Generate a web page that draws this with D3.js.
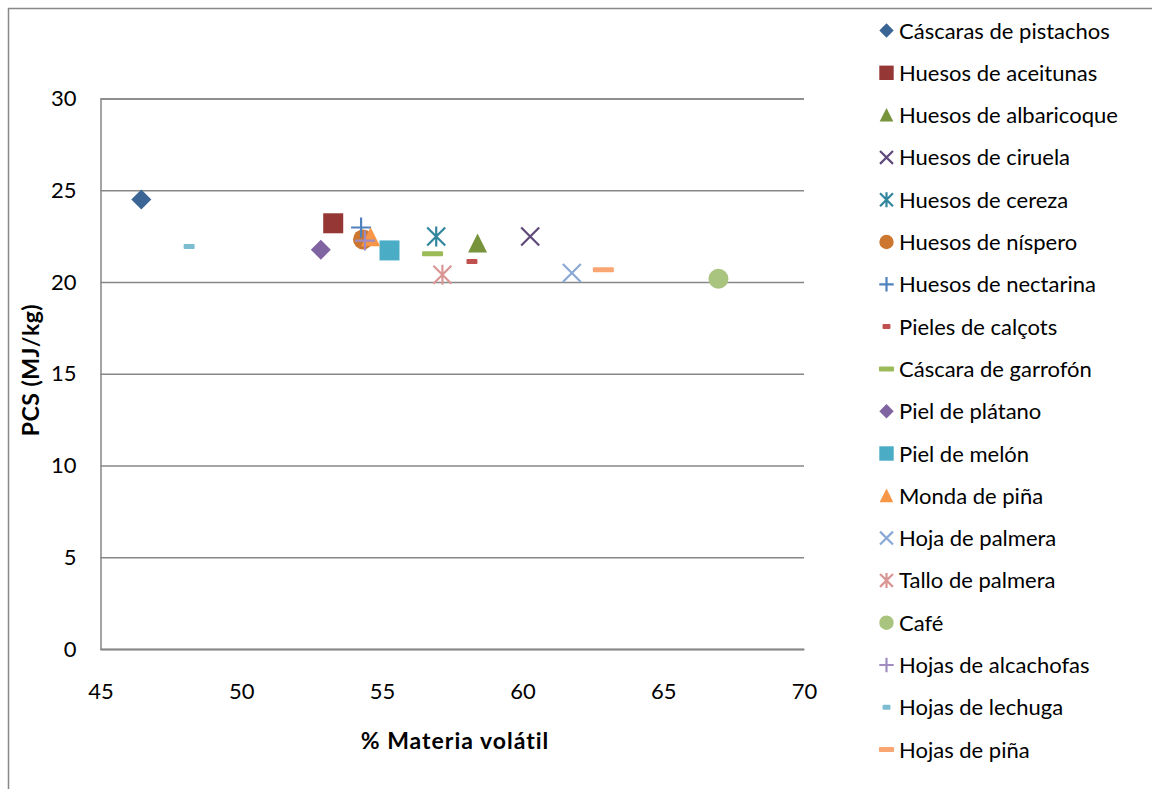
<!DOCTYPE html>
<html>
<head>
<meta charset="utf-8">
<script src="https://cdn.jsdelivr.net/npm/d3@7"></script>
<style>
  body { margin: 0; background: #fff; }
  text { font-family: Lato, "Open Sans", sans-serif; fill: #000; }
</style>
</head>
<body>
<div id="chart"></div>
<script>

const WIDTH = 1152;
const HEIGHT = 789;

// Plot area inside the svg.
const PLOT = {'left': 100.5, 'right': 804, 'top': 98.5, 'bottom': 649};

// Data.
const names = ["Cáscaras de pistachos", "Huesos de aceitunas", "Huesos de albaricoque",
               "Huesos de ciruela", "Huesos de cereza", "Huesos de níspero",
               "Huesos de nectarina", "Pieles de calçots", "Cáscara de garrofón",
               "Piel de plátano", "Piel de melón", "Monda de piña", "Hoja de palmera",
               "Tallo de palmera", "Café", "Hojas de alcachofas", "Hojas de lechuga",
               "Hojas de piña"];
const volatil = [46.45, 53.27, 58.4, 60.27, 56.93, 54.33, 54.26, 58.2, 56.8,
                 52.83, 55.27, 54.6, 61.75, 57.15, 66.96, 54.4, 48.15, 62.87];
const pcs = [24.5, 23.2, 22.1, 22.48, 22.48, 22.32, 22.97, 21.12, 21.54,
             21.76, 21.72, 22.44, 20.49, 20.4, 20.18, 22.26, 21.94, 20.67];
const markers = ["diamond", "square", "triangle", "x", "star", "circle", "plus", "dash", "longdash",
                 "diamond", "square", "triangle", "x", "star", "circle", "plus", "dash", "longdash"];
const colors = ["#3b6595", "#953735", "#77933c", "#5f497a", "#31859c", "#cc7630",
                "#4f81bd", "#c0504d", "#9bbb59", "#8064a2", "#4bacc6", "#f79646",
                "#8aa8d6", "#d99694", "#a9c47f", "#a08cc0", "#7dbdd2", "#f9a672"];
const xTicks = [45, 50, 55, 60, 65, 70];
const yTicks = [0, 5, 10, 15, 20, 25, 30];


// draws one excel style marker at 0,0
function drawMarker(g, type, color, s) {
    if (type == "diamond") {
        g.append("path").attr("d", "M0," + (-10*s) + "L" + (10*s) + ",0L0," + (10*s) + "L" + (-10*s) + ",0Z").attr("fill", color);
    } else if (type == "square") {
        g.append("rect").attr("x", -10*s).attr("y", -10*s).attr("width", 20*s).attr("height", 20*s).attr("fill", color);
    } else if (type == "triangle") {
        g.append("path").attr("d", "M0," + (-10*s) + "L" + (9.5*s) + "," + (9*s) + "L" + (-9.5*s) + "," + (9*s) + "Z").attr("fill", color);
    } else if (type == "circle") {
        g.append("circle").attr("r", 10*s).attr("fill", color);
    } else if (type == "x" || type == "star") {
        var d = 9*s;
        var p = "M" + (-d) + "," + (-d) + "L" + d + "," + d + "M" + d + "," + (-d) + "L" + (-d) + "," + d;
        if (type == "star") p += "M0," + (-d - 1) + "L0," + (d + 1);
        g.append("path").attr("d", p).attr("stroke", color).attr("stroke-width", 2.2).attr("fill", "none");
    } else if (type == "plus") {
        var h = 10*s;
        g.append("path").attr("d", "M" + (-h) + ",0L" + h + ",0M0," + (-h) + "L0," + h)
         .attr("stroke", color).attr("stroke-width", 2.2).attr("fill", "none");
    } else if (type == "dash") {
        g.append("rect").attr("x", -5.5*s).attr("y", -2.5).attr("width", 11*s).attr("height", 5).attr("rx", 1).attr("fill", color);
    } else if (type == "longdash") {
        g.append("rect").attr("x", -10.5*s).attr("y", -2.5).attr("width", 21*s).attr("height", 5).attr("rx", 1).attr("fill", color);
    }
}


window.onload = function() {

    var svg = d3.select("#chart").append("svg")
                .attr("width", WIDTH)
                .attr("height", HEIGHT);

    // chart border (runs off the right and bottom edge)
    svg.append("rect")
       .attr("x", 8.5).attr("y", 8.5)
       .attr("width", WIDTH + 20).attr("height", HEIGHT + 20)
       .attr("fill", "white").attr("stroke", "#888").attr("stroke-width", 1.5);

    var x = d3.scaleLinear().domain([45, 70]).range([PLOT.left, PLOT.right]);
    var y = d3.scaleLinear().domain([0, 30]).range([PLOT.bottom, PLOT.top]);

    // gridlines
    var yAxis = d3.axisLeft(y).tickValues(yTicks)
                  .tickSize(-(PLOT.right - PLOT.left)).tickPadding(24);
    var gy = svg.append("g").attr("transform", "translate(" + PLOT.left + ",0)").call(yAxis);
    gy.select(".domain").attr("stroke", "#878787").attr("stroke-width", 1.5);
    gy.selectAll(".tick line").attr("stroke", "#878787").attr("stroke-width", 1.5);
    gy.selectAll(".tick text").attr("font-size", 22).attr("font-family", "Lato").attr("fill", "#000");

    var xAxis = d3.axisBottom(x).tickValues(xTicks).tickSize(0).tickPadding(34);
    var gx = svg.append("g").attr("transform", "translate(0," + PLOT.bottom + ")").call(xAxis);
    gx.select(".domain").attr("stroke", "#878787").attr("stroke-width", 1.5);
    gx.selectAll(".tick text").attr("font-size", 22).attr("font-family", "Lato").attr("fill", "#000");

    // axis titles
    svg.append("text")
       .attr("x", 455).attr("y", 749)
       .attr("text-anchor", "middle")
       .attr("font-size", 23).attr("font-weight", "bold")
       .attr("letter-spacing", 1)
       .text("% Materia volátil");

    svg.append("text")
       .attr("transform", "translate(39,370) rotate(-90)")
       .attr("text-anchor", "middle")
       .attr("font-size", 23).attr("font-weight", "bold")
       .attr("letter-spacing", 0.5)
       .text("PCS (MJ/kg)");

    // points
    for (var i = 0; i < names.length; i++) {
        var g = svg.append("g")
                   .attr("transform", "translate(" + x(volatil[i]) + "," + y(pcs[i]) + ")");
        drawMarker(g, markers[i], colors[i], 1);
    }

    // legend
    var legend = svg.append("g").attr("transform", "translate(0,30.5)");
    for (var j = 0; j < names.length; j++) {
        var row = legend.append("g").attr("transform", "translate(0," + (j * 42.3) + ")");
        var m = row.append("g").attr("transform", "translate(886.5,0)");
        drawMarker(m, markers[j], colors[j], 0.72);
        row.append("text")
           .attr("x", 899).attr("y", 8)
           .attr("font-size", 22)
           .text(names[j]);
    }
};

</script>
</body>
</html>
